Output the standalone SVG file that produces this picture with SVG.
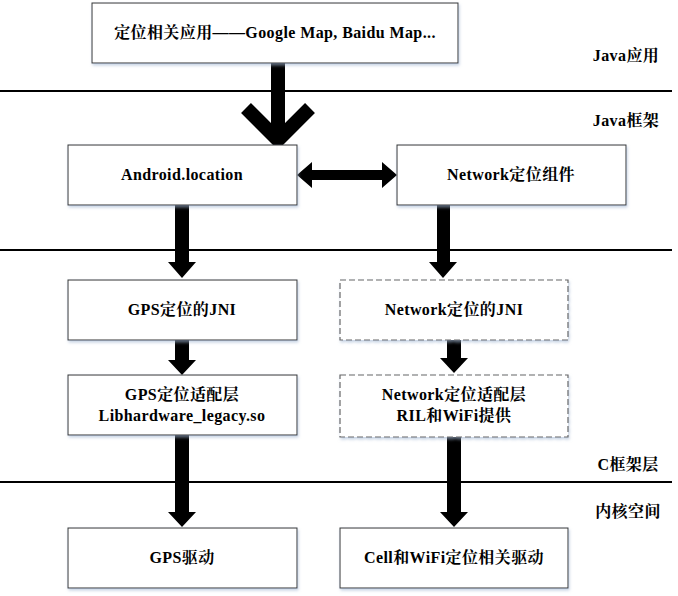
<svg xmlns="http://www.w3.org/2000/svg" width="678" height="596" viewBox="0 0 678 596">
<defs>
<filter id="sh" x="-5%" y="-5%" width="110%" height="120%">
<feDropShadow dx="1" dy="2" stdDeviation="1.5" flood-color="#9fb4d0" flood-opacity="0.6"/>
</filter>
<style>
.box{fill:#fff;stroke:#333;stroke-width:1;filter:url(#sh)}
.dash{fill:#fff;stroke:#666;stroke-width:1.2;stroke-dasharray:6 3;filter:url(#sh)}
text{font-family:"Liberation Serif","Times New Roman",Times,"Noto Serif CJK SC","Noto Sans CJK SC",serif;font-weight:bold;font-size:16px;fill:#000;text-anchor:middle;letter-spacing:0.4px}
.sep{stroke:#000;stroke-width:2}
.ar{fill:#000}
</style>
</defs>
<rect width="678" height="596" fill="#fff"/>
<g id="separators">
<line class="sep" x1="0" y1="91" x2="672" y2="91"/>
<line class="sep" x1="0" y1="250" x2="672" y2="250"/>
<line class="sep" x1="0" y1="482" x2="672" y2="482"/>
</g>
<g id="layer-labels">
<text x="626" y="61">Java应用</text>
<text x="626" y="126">Java框架</text>
<text x="628" y="470">C框架层</text>
<text x="628" y="517">内核空间</text>
</g>
<g id="connectors">
<rect class="ar" x="271" y="63" width="14" height="70"/>
<polyline points="246,108 278,140 310,108" fill="none" stroke="#000" stroke-width="14"/>
<polygon class="ar" points="297,175 312,162 312,170 382,170 382,162 397,175 382,188 382,180 312,180 312,188"/>
<polygon class="ar" points="175,205 189,205 189,262 196,262 182,278 168,262 175,262"/>
<polygon class="ar" points="437,205 450,205 450,262 457,262 443,278 429,262 437,262"/>
<polygon class="ar" points="175,340 189,340 189,360 196,360 182,375 168,360 175,360"/>
<polygon class="ar" points="447,340 461,340 461,358 468,358 454,373 440,358 447,358"/>
<polygon class="ar" points="175,435 189,435 189,512 196,512 182,527 168,512 175,512"/>
<polygon class="ar" points="447,437 461,437 461,512 468,512 454,527 440,512 447,512"/>
</g>
<g id="node-apps">
<rect class="box" x="92" y="3" width="366" height="60"/>
<text x="275" y="38">定位相关应用——Google Map, Baidu Map...</text>
</g>
<g id="node-android-location">
<rect class="box" x="68" y="145" width="229" height="60"/>
<text x="182" y="180">Android.location</text>
</g>
<g id="node-network-component">
<rect class="box" x="397" y="145" width="229" height="60"/>
<text x="511" y="180">Network定位组件</text>
</g>
<g id="node-gps-jni">
<rect class="box" x="68" y="280" width="229" height="60"/>
<text x="182" y="315">GPS定位的JNI</text>
</g>
<g id="node-network-jni">
<rect class="dash" x="340" y="280" width="228" height="60"/>
<text x="454" y="315">Network定位的JNI</text>
</g>
<g id="node-gps-adapter">
<rect class="box" x="68" y="375" width="229" height="60"/>
<text x="182" y="400">GPS定位适配层</text>
<text x="182" y="421">Libhardware_legacy.so</text>
</g>
<g id="node-network-adapter">
<rect class="dash" x="340" y="375" width="228" height="62"/>
<text x="454" y="400">Network定位适配层</text>
<text x="454" y="421">RIL和WiFi提供</text>
</g>
<g id="node-gps-driver">
<rect class="box" x="68" y="528" width="229" height="60"/>
<text x="182" y="563">GPS驱动</text>
</g>
<g id="node-cell-wifi-driver">
<rect class="box" x="340" y="528" width="228" height="60"/>
<text x="454" y="563">Cell和WiFi定位相关驱动</text>
</g>
</svg>
